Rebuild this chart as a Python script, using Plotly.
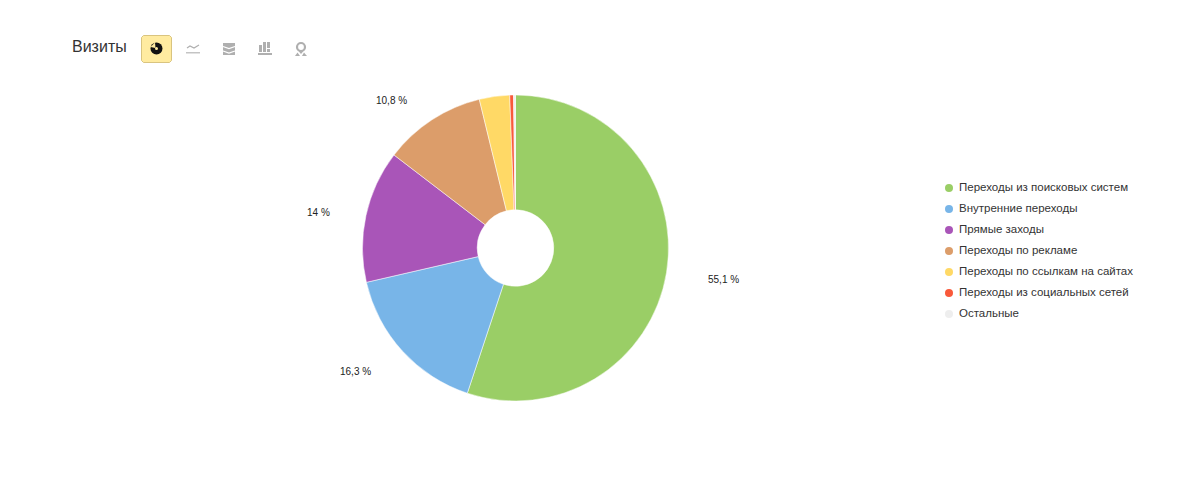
import math
import plotly.graph_objects as go

categories = ["Переходы из поисковых систем", "Внутренние переходы", "Прямые заходы",
              "Переходы по рекламе", "Переходы по ссылкам на сайтах",
              "Переходы из социальных сетей", "Остальные"]
values = [55.1, 16.3, 14.0, 10.8, 3.2, 0.4, 0.2]
colors = ["#9ACE66", "#78B5E8", "#A955B8", "#DC9D6A", "#FFD966", "#F9593A", "#EEEEEE"]
value_labels = ["55,1 %", "16,3 %", "14 %", "10,8 %", "", "", ""]
title_text = "Визиты"
FONT = "Liberation Sans, Arial, sans-serif"
W, H = 1200, 489
CX, CY, R = 515.5, 248, 153

fig = go.Figure()
fig.add_trace(go.Pie(
    labels=categories, values=values, sort=False, direction="clockwise", rotation=0,
    hole=0.25, textinfo="none", showlegend=False,
    marker=dict(colors=colors, line=dict(color="#ffffff", width=0.5)),
    domain=dict(x=[(CX - R) / W, (CX + R) / W], y=[1 - (CY + R) / H, 1 - (CY - R) / H]),
))

# outer percentage labels, placed from each slice's mid angle
cum = 0
total = sum(values)
radial = [210, 202, 200, 193, 0, 0, 0]
nudge = [-0.6, 4.6, -1.9, -7.0, 0, 0, 0]
for v, lab, rad, nd in zip(values, value_labels, radial, nudge):
    mid = (cum + v / 2) / total * 2 * math.pi + math.radians(nd)
    cum += v
    if lab:
        fig.add_annotation(
            x=(CX + rad * math.sin(mid)) / W, y=1 - (CY - rad * math.cos(mid)) / H,
            xref="paper", yref="paper", xanchor="center", yanchor="middle", text=lab, showarrow=False,
            font=dict(family=FONT, size=10, color="#222222"))

# legend rows, one row per category, on a hidden axis
rows = list(range(len(categories)))
fig.add_trace(go.Scatter(
    x=[0] * len(rows), y=rows, mode="markers",
    marker=dict(color=colors, size=8), showlegend=False, hoverinfo="skip", cliponaxis=False))
fig.add_trace(go.Scatter(
    x=[10] * len(rows), y=[i + 0.02 for i in rows], mode="text", text=categories,
    textposition="middle right", textfont=dict(family=FONT, size=11.5, color="#333333"),
    showlegend=False, hoverinfo="skip", cliponaxis=False))
fig.update_xaxes(visible=False, range=[-949, W - 949], domain=[0, 1])
fig.update_yaxes(visible=False, range=[(H - 188) / 21, -188 / 21], domain=[0, 1])

def px(x, y):
    return f"{x / W:.5f}", f"{1 - y / H:.5f}"

def path(d_pts, close=True):
    s = ""
    for i, (x, y) in enumerate(d_pts):
        a, b = px(x, y)
        s += ("M" if i == 0 else "L") + f"{a},{b} "
    return s + ("Z" if close else "")

def rect(x0, y0, x1, y1, color, line=None):
    fig.add_shape(type="rect", xref="paper", yref="paper",
                  x0=x0 / W, x1=x1 / W, y0=1 - y0 / H, y1=1 - y1 / H,
                  fillcolor=color, line=dict(color=line or color, width=1 if line else 0))

def poly(pts, color=None, line=None, width=1.5):
    fig.add_shape(type="path", xref="paper", yref="paper", path=path(pts, close=color is not None),
                  fillcolor=color, line=dict(color=line or color, width=width if line else 0))

# title
fig.add_annotation(x=70 / W, y=1 - 46.5 / H, xref="paper", yref="paper", xanchor="left", yanchor="middle",
                   text=title_text, showarrow=False,
                   font=dict(family=FONT, size=16, color="#333333"))

# active button
r = 2
fig.add_shape(type="path", xref="paper", yref="paper",
              path=path([(141.5 + r, 35.5), (171.5 - r, 35.5), (171.5, 35.5 + r), (171.5, 62.5 - r),
                         (171.5 - r, 62.5), (141.5 + r, 62.5), (141.5, 62.5 - r), (141.5, 35.5 + r)]),
              fillcolor="#FFEBA0", line=dict(color="#D9C47F", width=1))

# pie icon
fig.add_shape(type="circle", xref="paper", yref="paper",
              x0=150.5 / W, x1=162.5 / W, y0=1 - 54.5 / H, y1=1 - 42.5 / H,
              fillcolor="#111111", line=dict(width=0))
poly([(155.5, 48), (155, 42.5), (150.5, 47)], color="#FFEBA0")
fig.add_shape(type="circle", xref="paper", yref="paper",
              x0=155 / W, x1=158 / W, y0=1 - 50 / H, y1=1 - 47 / H,
              fillcolor="#FFEBA0", line=dict(width=0))

GREY = "#AFAFAF"
# line icon
poly([(187, 48), (190, 46), (194, 48), (199, 45)], line=GREY, width=1.2)
rect(186, 52, 200, 53.5, "#C4C4C4")
# area icon
rect(223, 43, 235, 55, GREY)
for dy in (3.5, 8):
    poly([(223, 43 + dy), (229, 45 + dy), (235, 43 + dy)], line="#ffffff", width=1.2)
# bar icon
for x0, y0, y1 in ((259, 45, 52), (263, 42, 52), (267, 42, 48), (267, 49, 52)):
    rect(x0, y0, x0 + 3, y1, GREY)
rect(258, 53, 272, 55, GREY)
# map icon
fig.add_shape(type="circle", xref="paper", yref="paper",
              x0=297 / W, x1=305 / W, y0=1 - 51 / H, y1=1 - 43 / H,
              fillcolor="rgba(0,0,0,0)", line=dict(color=GREY, width=2.2))
poly([(297.5, 50), (304.5, 50), (301, 54)], color=GREY)
poly([(295, 56), (297.5, 52.5), (300, 56)], color=GREY)
poly([(304, 52.5), (307, 56), (302, 56)], color=GREY)

fig.update_layout(width=W, height=H, autosize=False, margin=dict(l=0, r=0, t=0, b=0),
                  paper_bgcolor="#ffffff", plot_bgcolor="#ffffff", showlegend=False)
fig.write_html("out.html", config=dict(displayModeBar=False),
               post_script="document.body.style.margin='0';document.body.style.overflow='hidden';")
